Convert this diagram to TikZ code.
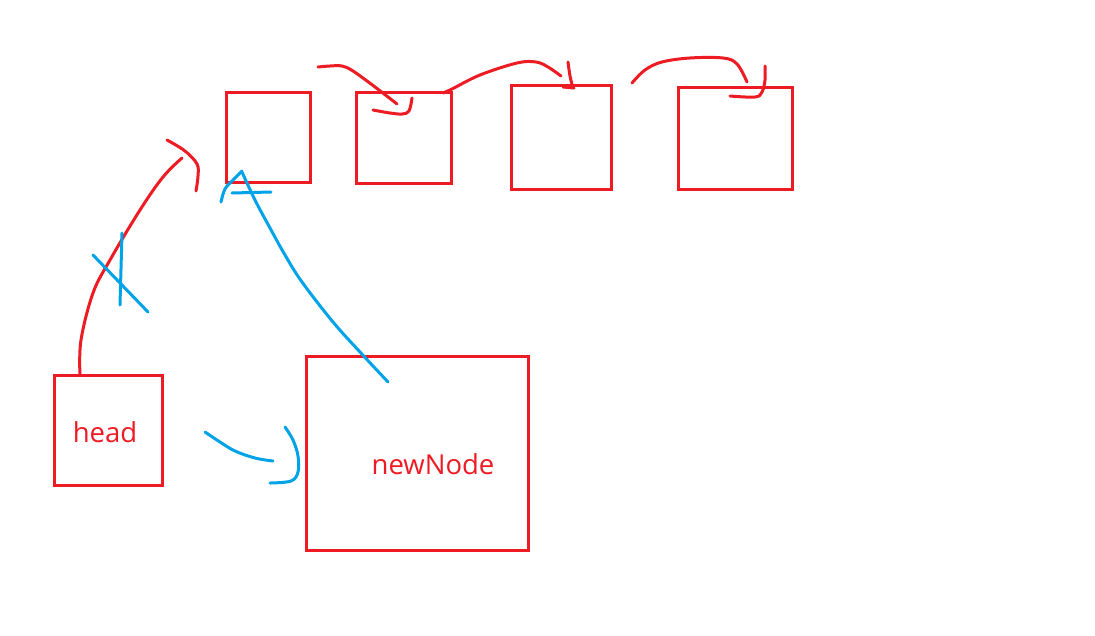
\documentclass[tikz,border=0pt]{standalone}
\usepackage{fontspec}
\setmainfont{Open Sans}
\definecolor{pred}{HTML}{ED1C24}
\definecolor{pblue}{HTML}{00A2E8}
\begin{document}
\begin{tikzpicture}[x=1pt,y=-1pt,
  box/.style={draw=pred,line width=3pt,inner sep=0pt},
  lbl/.style={text=pred,font=\fontsize{27.5}{32}\selectfont,inner sep=0pt},
  rstroke/.style={draw=pred,line width=3pt,line cap=round,line join=round},
  bstroke/.style={draw=pblue,line width=3pt,line cap=round,line join=round}]
\useasboundingbox (0,0) rectangle (1095,635);
\fill[white] (0,0) rectangle (1095,635);
% boxes
\node[box,minimum width=108pt,minimum height=110pt] (head) at (108,430) {};
\node[box,minimum width=222pt,minimum height=194pt] (newnode) at (417,453) {};
\node[box,minimum width=84pt,minimum height=90pt] (b1) at (268,137) {};
\node[box,minimum width=95pt,minimum height=91pt] (b2) at (403.5,137.5) {};
\node[box,minimum width=100pt,minimum height=104pt] (b3) at (561,137) {};
\node[box,minimum width=114pt,minimum height=102pt] (b4) at (735,138) {};
\node[lbl] (headlbl) at (105,432) {head};
\node[lbl] (newlbl) at (433,464) {newNode};
% red arrow from head upward
\coordinate (hs) at (80,375);
\draw[rstroke] plot[smooth,tension=0.6] coordinates {(hs) (81,340) (93,293) (110,260) (140,210) (163,177) (182,158)};
\draw[rstroke] plot[smooth,tension=0.6] coordinates {(167,140) (185,151) (197,164) (198,176) (196,191)};
% blue cross marks
\draw[bstroke] (122,233) -- (120,305);
\draw[bstroke] (93,255) -- (148,312);
% blue arrow from newNode to b1
\coordinate (ns) at (388,382);
\draw[bstroke] plot[smooth,tension=0.6] coordinates {(ns) (360,352) (333,322) (302,282) (285,255) (270,228) (255,200) (242,172)};
\draw[bstroke] plot[smooth,tension=0.6] coordinates {(221,202) (225,189) (233,180) (242,171)};
\draw[bstroke] (232,193) -- (271,192);
% blue arrow head -> newNode
\draw[bstroke] plot[smooth,tension=0.6] coordinates {(205,432) (220,442) (235,451) (255,458) (273,461)};
\draw[bstroke] plot[smooth,tension=0.6] coordinates {(285,427) (293,440) (298,456) (298,472) (291,481) (270,483)};
% red top arrows
\draw[rstroke] plot[smooth,tension=0.6] coordinates {(318,67) (330,66) (342,66) (353,71) (375,87) (397,104)};
\draw[rstroke] plot[smooth,tension=0.6] coordinates {(373,110) (390,113) (402,114) (409,111) (412,98)};
\draw[rstroke] plot[smooth,tension=0.6] coordinates {(443,93) (452,89) (480,75) (517,63) (536,62) (548,67) (561,76)};
\draw[rstroke] plot[smooth,tension=0.6] coordinates {(568,62) (570,76) (573,88)};
\draw[rstroke] (563,87) -- (574,88);
\draw[rstroke] plot[smooth,tension=0.6] coordinates {(632,83) (645,70) (662,62) (690,58) (723,58) (737,64) (747,82)};
\draw[rstroke] plot[smooth,tension=0.6] coordinates {(765,66) (765,80) (762,92) (755,97) (730,96)};
\end{tikzpicture}
\end{document}
